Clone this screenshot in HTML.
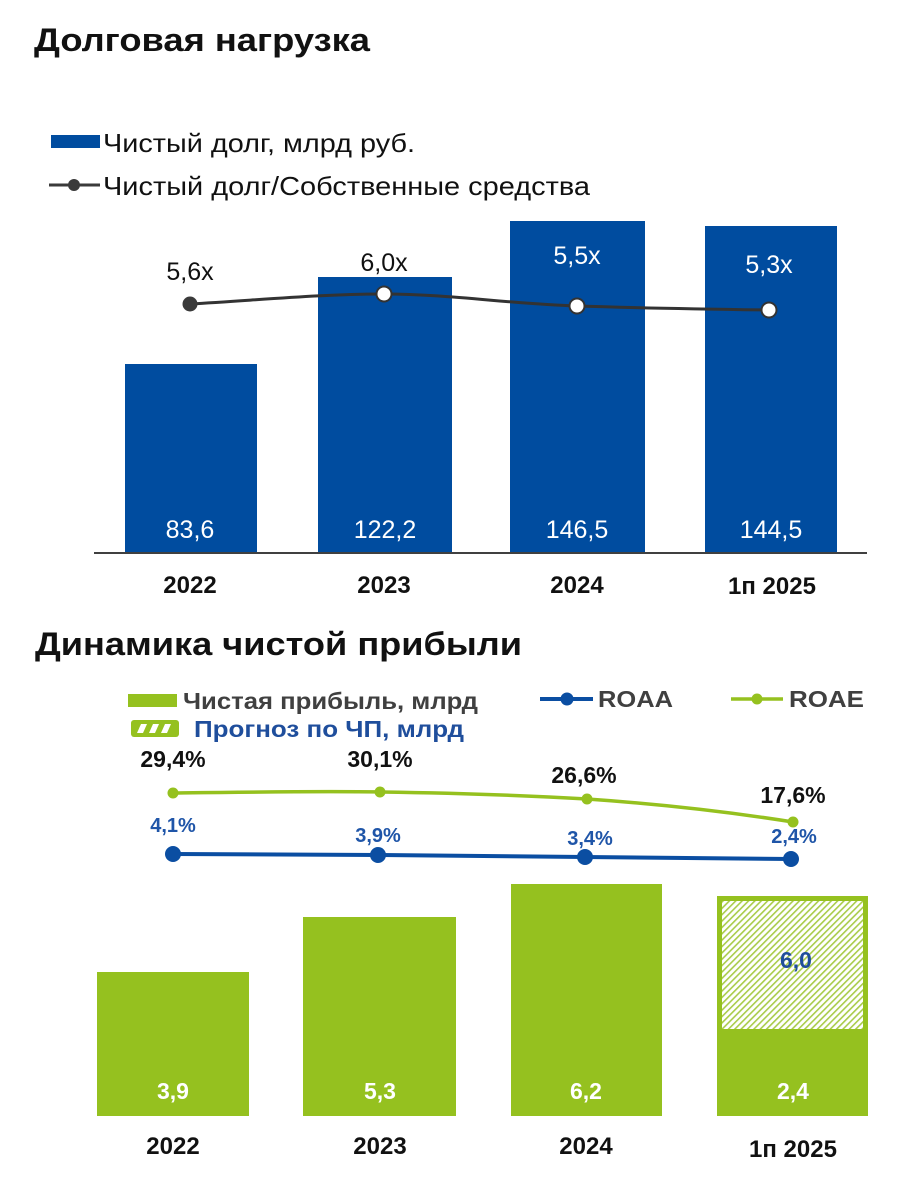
<!DOCTYPE html>
<html><head><meta charset="utf-8"><style>
html,body{margin:0;padding:0;background:#fff;}
svg{display:block;}
text{font-family:"Liberation Sans",Arial,sans-serif;}
</style></head><body>
<svg width="909" height="1203" viewBox="0 0 909 1203" xmlns="http://www.w3.org/2000/svg">
<defs>
<pattern id="hatch" patternUnits="userSpaceOnUse" width="4.5" height="10" patternTransform="rotate(45)">
<rect x="0" y="0" width="4.5" height="10" fill="#ffffff"/>
<rect x="0" y="0" width="1.6" height="10" fill="#a9cc4a"/>
</pattern>
</defs>
<rect width="909" height="1203" fill="#fff"/>

<!-- TOP CHART -->
<text x="34" y="51" font-size="32" font-weight="bold" fill="#111" textLength="336" lengthAdjust="spacingAndGlyphs">Долговая нагрузка</text>

<rect x="51" y="135" width="49" height="13" fill="#004c9f"/>
<text x="103" y="152" font-size="26" fill="#111" textLength="312" lengthAdjust="spacingAndGlyphs">Чистый долг, млрд руб.</text>
<line x1="49" y1="185" x2="100" y2="185" stroke="#3a3a3a" stroke-width="3"/>
<circle cx="74" cy="185" r="6" fill="#3a3a3a"/>
<text x="103" y="195" font-size="26" fill="#111" textLength="487" lengthAdjust="spacingAndGlyphs">Чистый долг/Собственные средства</text>

<rect x="125" y="364" width="132" height="189" fill="#004c9f"/>
<rect x="318" y="277" width="134" height="276" fill="#004c9f"/>
<rect x="510" y="221" width="135" height="332" fill="#004c9f"/>
<rect x="705" y="226" width="132" height="327" fill="#004c9f"/>
<line x1="94" y1="553" x2="867" y2="553" stroke="#404040" stroke-width="2"/>

<path d="M190,304 C260,300 320,294 384,294 C450,294 510,304 577,306 C640,308 700,309 769,310" fill="none" stroke="#333" stroke-width="3"/>
<circle cx="190" cy="304" r="7.5" fill="#3a3a3a"/>
<circle cx="384" cy="294" r="7.5" fill="#fff" stroke="#333" stroke-width="2"/>
<circle cx="577" cy="306" r="7.5" fill="#fff" stroke="#333" stroke-width="2"/>
<circle cx="769" cy="310" r="7.5" fill="#fff" stroke="#333" stroke-width="2"/>

<g font-size="25" text-anchor="middle">
<text x="190" y="280" fill="#111">5,6x</text>
<text x="384" y="271" fill="#111">6,0x</text>
<text x="577" y="264" fill="#fff">5,5x</text>
<text x="769" y="273" fill="#fff">5,3x</text>
<text x="190" y="538" fill="#fff">83,6</text>
<text x="385" y="538" fill="#fff">122,2</text>
<text x="577" y="538" fill="#fff">146,5</text>
<text x="771" y="538" fill="#fff">144,5</text>
</g>
<g font-size="24" font-weight="bold" text-anchor="middle" fill="#111">
<text x="190" y="593">2022</text>
<text x="384" y="593">2023</text>
<text x="577" y="593">2024</text>
<text x="772" y="594">1п 2025</text>
</g>

<!-- BOTTOM CHART -->
<text x="35" y="655" font-size="32" font-weight="bold" fill="#111" textLength="487" lengthAdjust="spacingAndGlyphs">Динамика чистой прибыли</text>

<rect x="128" y="694" width="49" height="13" fill="#95c11f"/>
<text x="183" y="709" font-size="23" font-weight="bold" fill="#404040" textLength="295" lengthAdjust="spacingAndGlyphs">Чистая прибыль, млрд</text>
<rect x="131" y="720" width="48" height="17" rx="3" fill="#95c11f"/>
<g fill="#fff">
<polygon points="137,733 141,724 147,724 143,733"/>
<polygon points="149,733 153,724 159,724 155,733"/>
<polygon points="161,733 165,724 171,724 167,733"/>
</g>
<text x="194" y="737" font-size="23" font-weight="bold" fill="#1f4e9c" textLength="270" lengthAdjust="spacingAndGlyphs">Прогноз по ЧП, млрд</text>

<line x1="540" y1="699" x2="593" y2="699" stroke="#0b4ea2" stroke-width="4"/>
<circle cx="567" cy="699" r="6.5" fill="#0b4ea2"/>
<text x="598" y="707" font-size="23" font-weight="bold" fill="#404040" textLength="75" lengthAdjust="spacingAndGlyphs">ROAA</text>
<line x1="731" y1="699" x2="783" y2="699" stroke="#95c11f" stroke-width="3.5"/>
<circle cx="757" cy="699" r="5.5" fill="#95c11f"/>
<text x="789" y="707" font-size="23" font-weight="bold" fill="#404040" textLength="75" lengthAdjust="spacingAndGlyphs">ROAE</text>

<path d="M173,793 C250,792 320,791 380,792 C450,793 520,795 587,799 C660,804 730,812 793,822" fill="none" stroke="#95c11f" stroke-width="3.5"/>
<circle cx="173" cy="793" r="5.5" fill="#95c11f"/>
<circle cx="380" cy="792" r="5.5" fill="#95c11f"/>
<circle cx="587" cy="799" r="5.5" fill="#95c11f"/>
<circle cx="793" cy="822" r="5.5" fill="#95c11f"/>

<polyline points="173,854 378,855 585,857 791,859" fill="none" stroke="#0b4ea2" stroke-width="4"/>
<circle cx="173" cy="854" r="8" fill="#0b4ea2"/>
<circle cx="378" cy="855" r="8" fill="#0b4ea2"/>
<circle cx="585" cy="857" r="8" fill="#0b4ea2"/>
<circle cx="791" cy="859" r="8" fill="#0b4ea2"/>

<g font-size="23" font-weight="bold" text-anchor="middle" fill="#111">
<text x="173" y="767">29,4%</text>
<text x="380" y="767">30,1%</text>
<text x="584" y="783">26,6%</text>
<text x="793" y="803">17,6%</text>
</g>
<g font-size="20" font-weight="bold" text-anchor="middle" fill="#1f55a8">
<text x="173" y="832">4,1%</text>
<text x="378" y="842">3,9%</text>
<text x="590" y="845">3,4%</text>
<text x="794" y="843">2,4%</text>
</g>

<rect x="97" y="972" width="152" height="144" fill="#95c11f"/>
<rect x="303" y="917" width="153" height="199" fill="#95c11f"/>
<rect x="511" y="884" width="151" height="232" fill="#95c11f"/>
<rect x="717" y="896" width="151" height="220" fill="#95c11f"/>
<rect x="722" y="901" width="141" height="128" fill="url(#hatch)"/>

<g font-size="23" font-weight="bold" text-anchor="middle">
<text x="173" y="1099" fill="#fff">3,9</text>
<text x="380" y="1099" fill="#fff">5,3</text>
<text x="586" y="1099" fill="#fff">6,2</text>
<text x="793" y="1099" fill="#fff">2,4</text>
<text x="796" y="968" fill="#1f4e9c">6,0</text>
</g>
<g font-size="24" font-weight="bold" text-anchor="middle" fill="#111">
<text x="173" y="1154">2022</text>
<text x="380" y="1154">2023</text>
<text x="586" y="1154">2024</text>
<text x="793" y="1157">1п 2025</text>
</g>
</svg>
</body></html>
